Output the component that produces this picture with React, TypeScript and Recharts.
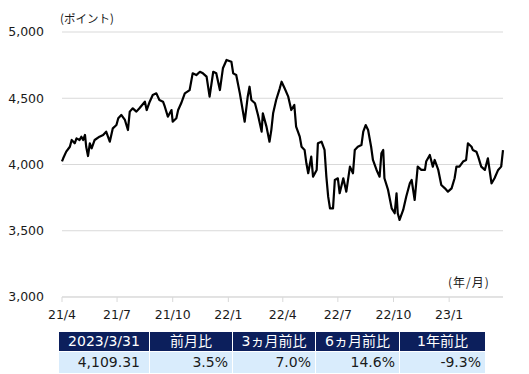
import React from 'react';
import { LineChart, Line, XAxis, YAxis, CartesianGrid } from 'recharts';

// calendar-day offset from 2021-04-01
const dayOffsets = [
  0, 2, 7, 13, 16, 21, 24, 29, 32, 35,
  38, 40, 43, 46, 49, 54, 62, 68, 73, 79,
  84, 90, 93, 98, 104, 109, 112, 117, 123, 128,
  137, 140, 145, 150, 156, 161, 167, 170, 175, 181,
  183, 189, 192, 197, 203, 211, 216, 222, 228, 233,
  239, 244, 250, 255, 261, 266, 272, 280, 283, 288,
  294, 302, 307, 310, 313, 319, 324, 330, 332, 338,
  343, 346, 349, 354, 360, 363, 368, 374, 379, 384,
  387, 393, 396, 401, 404, 407, 412, 415, 421, 423,
  429, 434, 437, 440, 443, 448, 451, 456, 459, 465,
  470, 476, 481, 484, 489, 495, 498, 502, 506, 511,
  514, 520, 525, 528, 531, 533, 539, 545, 550, 553,
  555, 558, 564, 569, 575, 578, 583, 588, 594, 600,
  602, 608, 613, 616, 622, 627, 633, 638, 644, 649,
  652, 657, 663, 668, 671, 677, 679, 685, 688, 693,
  699, 704, 710, 715, 721, 726, 729,
];

const indexValues = [
  4023, 4047, 4097, 4134, 4185, 4160, 4197, 4185, 4210, 4185,
  4223, 4134, 4064, 4160, 4122, 4185, 4210, 4223, 4248, 4172,
  4273, 4298, 4349, 4374, 4336, 4260, 4399, 4424, 4399, 4424,
  4474, 4411, 4474, 4525, 4537, 4487, 4474, 4436, 4361, 4411,
  4323, 4349, 4411, 4462, 4537, 4562, 4688, 4675, 4700, 4688,
  4663, 4512, 4700, 4688, 4562, 4726, 4789, 4776, 4688, 4675,
  4537, 4323, 4512, 4587, 4487, 4462, 4374, 4248, 4386, 4286,
  4172, 4260, 4386, 4487, 4575, 4625, 4575, 4512, 4411, 4449,
  4286, 4210, 4134, 4110, 4009, 3934, 4059, 3908, 3959, 4160,
  4172, 4110, 3908, 3757, 3669, 3669, 3883, 3896, 3783, 3896,
  3795, 3984, 3934, 4110, 4134, 4147, 4248, 4298, 4260, 4134,
  4034, 3959, 3908, 4085, 4110, 3896, 3808, 3669, 3632, 3783,
  3632, 3582, 3657, 3757, 3858, 3883, 3732, 3984, 3959, 3959,
  4022, 4072, 3984, 4034, 3959, 3845, 3820, 3795, 3820, 3896,
  3984, 3984, 4022, 4034, 4160, 4134, 4110, 4097, 4059, 3984,
  3959, 4047, 3858, 3896, 3959, 3984, 4109.31,
];

const xTickDays = [0, 91, 183, 275, 365, 456, 548, 640];
const xTickLabels = ['21/4', '21/7', '21/10', '22/1', '22/4', '22/7', '22/10', '23/1'];
const yTicks = [3000, 3500, 4000, 4500, 5000];

const yAxisTitle = '(ポイント)';
const xAxisTitle = '(年/月)';

const tableHeaders = ['2023/3/31', '前月比', '3ヵ月前比', '6ヵ月前比', '1年前比'];
const tableValues = ['4,109.31', '3.5%', '7.0%', '14.6%', '-9.3%'];
const columnWidths = [91, 83, 83, 84, 85];

const chartData = dayOffsets.map((d, i) => ({ day: d, value: indexValues[i] }));

const tickFont = "'DejaVu Sans', 'Noto Sans CJK JP', sans-serif";

export default function App() {
  return (
    <div style={{ position: 'absolute', left: 0, top: 0, width: 529, height: 374, background: '#fff', fontFamily: tickFont }}>
      <LineChart width={529} height={330} data={chartData} margin={{ top: 32, right: 26, left: 0, bottom: 3 }}>
        <CartesianGrid vertical={false} stroke="#d9d9d9" strokeWidth={1} />
        <XAxis
          dataKey="day"
          type="number"
          domain={[0, 729]}
          ticks={xTickDays}
          tickFormatter={(v) => xTickLabels[xTickDays.indexOf(v)] ?? ''}
          height={30}
          stroke="#d9d9d9"
          tickSize={5}
          tickMargin={8}
          tick={{ fill: '#1a1a1a', fontSize: 12.5, fontFamily: tickFont }}
          interval={0}
        />
        <YAxis
          type="number"
          domain={[3000, 5000]}
          ticks={yTicks}
          width={62}
          axisLine={false}
          tickLine={false}
          tickSize={6}
          tickMargin={12}
          tickFormatter={(v) => v.toLocaleString('en-US')}
          tick={{ fill: '#1a1a1a', fontSize: 12.5, fontFamily: tickFont }}
          interval={0}
        />
        <Line
          type="linear"
          dataKey="value"
          stroke="#000"
          strokeWidth={2.2}
          strokeLinejoin="round"
          dot={false}
          isAnimationActive={false}
        />
      </LineChart>
      <div style={{ position: 'absolute', left: 60, top: 10, fontSize: 11.5, color: '#1a1a1a', fontFamily: "'Noto Sans CJK JP', sans-serif", lineHeight: '16px', whiteSpace: 'nowrap' }}>
        {yAxisTitle}
      </div>
      <div style={{ position: 'absolute', left: 448, top: 274, fontSize: 12, color: '#1a1a1a', fontFamily: "'Noto Sans CJK JP', sans-serif", lineHeight: '16px', whiteSpace: 'nowrap', letterSpacing: 1 }}>
        {xAxisTitle}
      </div>
      <div style={{ position: 'absolute', left: 59, top: 332, display: 'flex', flexDirection: 'column' }}>
        <div style={{ display: 'flex' }}>
          {tableHeaders.map((h, i) => (
            <div
              key={i}
              style={{
                width: columnWidths[i],
                height: 20,
                boxSizing: 'border-box',
                background: '#0c1f5c',
                color: '#fff',
                borderRight: i < tableHeaders.length - 1 ? '1px solid #fff' : 'none',
                borderBottom: '1px solid #fff',
                fontSize: 14,
                lineHeight: '19px',
                textAlign: 'center',
                whiteSpace: 'nowrap',
              }}
            >
              {h}
            </div>
          ))}
        </div>
        <div style={{ display: 'flex' }}>
          {tableValues.map((v, i) => (
            <div
              key={i}
              style={{
                width: columnWidths[i],
                height: 21,
                boxSizing: 'border-box',
                background: '#d9ecfc',
                color: '#1a1a1a',
                borderRight: i < tableValues.length - 1 ? '1px solid #fff' : 'none',
                fontSize: 14,
                lineHeight: '21px',
                textAlign: 'right',
                paddingRight: i === 0 ? 9 : 4,
                whiteSpace: 'nowrap',
              }}
            >
              {v}
            </div>
          ))}
        </div>
      </div>
    </div>
  );
}
